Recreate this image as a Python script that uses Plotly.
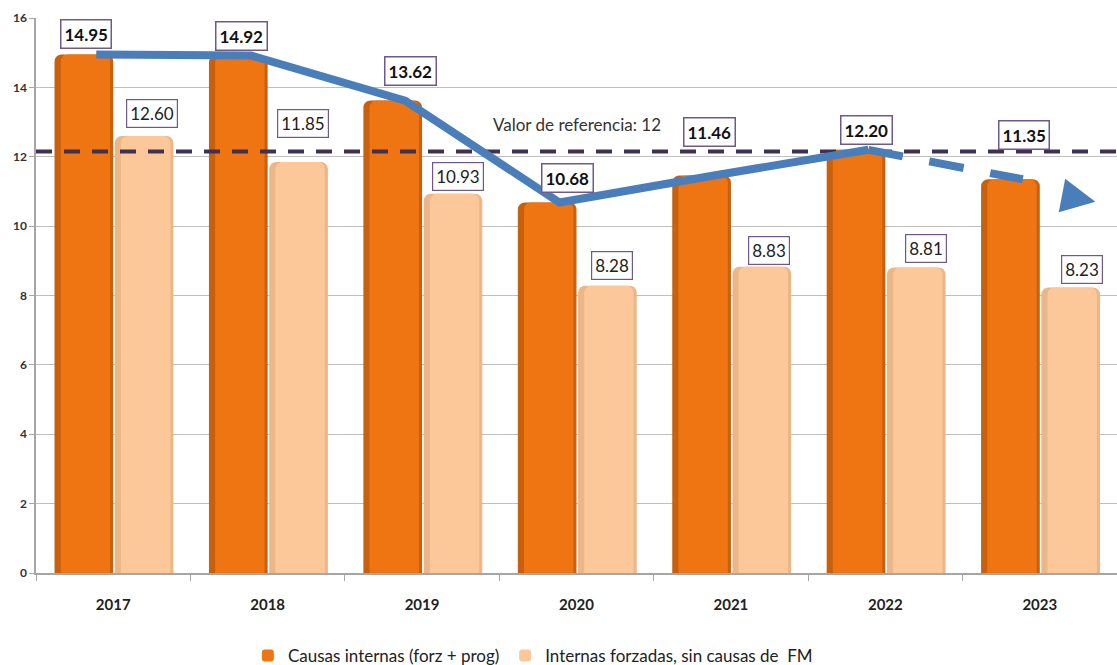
import plotly.graph_objects as go

# data
years = ["2017", "2018", "2019", "2020", "2021", "2022", "2023"]
internas = [14.95, 14.92, 13.62, 10.68, 11.46, 12.20, 11.35]
forzadas = [12.60, 11.85, 10.93, 8.28, 8.83, 8.81, 8.23]
ref_value = 12
ref_line_y = 12.15  # dashed line sits a touch above the 12 gridline
y_ticks = [0, 2, 4, 6, 8, 10, 12, 14, 16]

# label box placement tweaks (px): lift above bar top, sideways nudge
internas_lift = [5, 4, 15, 10, 28, 5, 29]
internas_nudge = [2, 3, 18, 20, 8, 10, 14]
forzadas_lift = [8, 24, 3, 6, 2, 4, 4]
forzadas_nudge = [8, 4, 5, 5, 7, 10, 11]

ORANGE = "#EE7512"
ORANGE_DARK = "#C8600E"
PEACH = "#FCC89A"
PEACH_DARK = "#EBB688"
BLUE = "#4A7EBB"
PURPLE = "#3F3151"
BOX = "#6E5A8A"
FONT = "Lato, Noto Sans, sans-serif"

x = list(range(len(years)))
bw = 0.38
x_int = [i - 0.19 for i in x]
x_frz = [i + 0.20 for i in x]
x_line = [i - 0.11 for i in x]

fig = go.Figure()

# bars: darker base + lighter inner bar to mimic the bevelled look
fig.add_trace(go.Bar(
    x=x_int, y=internas, width=bw, showlegend=False, hoverinfo="skip",
    marker=dict(color=ORANGE_DARK, line=dict(width=0)),
))
fig.add_trace(go.Bar(
    x=[v + 0.01 for v in x_int], y=internas, width=bw - 0.06,
    name="Causas internas (forz + prog)", legend="legend",
    marker=dict(color=ORANGE, line=dict(width=0)),
))
fig.add_trace(go.Bar(
    x=x_frz, y=forzadas, width=bw, showlegend=False, hoverinfo="skip",
    marker=dict(color=PEACH_DARK, line=dict(width=0)),
))
fig.add_trace(go.Bar(
    x=[v + 0.01 for v in x_frz], y=forzadas, width=bw - 0.06,
    name="Internas forzadas, sin causas de  FM", legend="legend2",
    marker=dict(color=PEACH, line=dict(width=0)),
))

# reference line
fig.add_trace(go.Scatter(
    x=[-0.5, 6.5], y=[ref_line_y, ref_line_y], mode="lines",
    line=dict(color=PURPLE, width=4, dash="16px,12px"),
    showlegend=False, hoverinfo="skip",
))

# trend line (solid part) and dashed last step
fig.add_trace(go.Scatter(
    x=x_line[:6], y=internas[:6], mode="lines",
    line=dict(color=BLUE, width=8), showlegend=False, hoverinfo="skip",
))
fig.add_trace(go.Scatter(
    x=x_line[5:], y=internas[5:], mode="lines",
    line=dict(color=BLUE, width=8, dash="35px,27px"),
    showlegend=False, hoverinfo="skip",
))

# arrow continuing the last trend
slope = internas[6] - internas[5]
tail_dx, tip_dx = 0.26, 0.47
annotations = [dict(
    x=x_line[6] + tip_dx, y=internas[6] + slope * tip_dx - 0.25,
    ax=x_line[6] + tail_dx, ay=internas[6] + slope * tail_dx - 0.25,
    xref="x", yref="y", axref="x", ayref="y",
    showarrow=True, arrowhead=2, arrowsize=0.85, arrowwidth=8, arrowcolor=BLUE, text="",
)]

for i in x:
    annotations.append(dict(
        x=x_int[i], y=internas[i], xref="x", yref="y",
        text="<b>%.2f</b>" % internas[i], showarrow=False,
        yanchor="bottom", yshift=internas_lift[i], xshift=internas_nudge[i],
        font=dict(family=FONT, size=17, color="#111111"),
        bgcolor="white", bordercolor=BOX, borderwidth=1.5, borderpad=3,
    ))
    annotations.append(dict(
        x=x_frz[i], y=forzadas[i], xref="x", yref="y",
        text="%.2f" % forzadas[i], showarrow=False,
        yanchor="bottom", yshift=forzadas_lift[i], xshift=forzadas_nudge[i],
        font=dict(family=FONT, size=17, color="#222222"),
        bgcolor="white", bordercolor=BOX, borderwidth=1.2, borderpad=3,
    ))

annotations.append(dict(
    x=3, y=ref_value, xref="x", yref="y", yshift=32,
    text="Valor de referencia: %d" % ref_value, showarrow=False,
    font=dict(family=FONT, size=17, color="#333333"),
))

legend_style = dict(
    orientation="h", xanchor="left", y=-0.117, yanchor="top",
    font=dict(family=FONT, size=17, color="#222222"),
    itemwidth=30, bgcolor="rgba(0,0,0,0)",
)

fig.update_layout(
    width=1117, height=665,
    margin=dict(l=36, r=0, t=18, b=92, autoexpand=False),
    plot_bgcolor="white", paper_bgcolor="white",
    barmode="overlay", barcornerradius=7,
    font=dict(family=FONT, color="#222222"),
    annotations=annotations,
    legend=dict(x=0.196, **legend_style),
    legend2=dict(x=0.434, **legend_style),
)

fig.update_xaxes(
    range=[-0.5, 6.5], tickvals=x, ticktext=["<b>%s</b>" % y for y in years],
    ticks="", showgrid=False, zeroline=False, automargin=False,
    showline=True, linecolor="#A6A6A6", linewidth=1.5,
    ticklabelstandoff=17,
    tickfont=dict(family=FONT, size=15, color="#222222"),
    minor=dict(tickvals=[i - 0.5 for i in range(len(years) + 1)],
               ticks="outside", ticklen=6, tickcolor="#A6A6A6", showgrid=False),
)
fig.update_yaxes(
    range=[0, 16], tickvals=y_ticks, automargin=False,
    ticktext=["<b>%d</b>" % t for t in y_ticks],
    showgrid=True, gridcolor="#BFBFBF", gridwidth=1,
    zeroline=False, showline=True, linecolor="#A6A6A6", linewidth=1.5,
    ticks="outside", ticklen=5, tickcolor="#A6A6A6",
    tickfont=dict(family=FONT, size=12, color="#333333"),
)

# the page body has a default 8px margin; drop it so the figure fills the window
fig.write_html("out.html", config={"displayModeBar": False},
               post_script="document.body.style.margin='0';")
